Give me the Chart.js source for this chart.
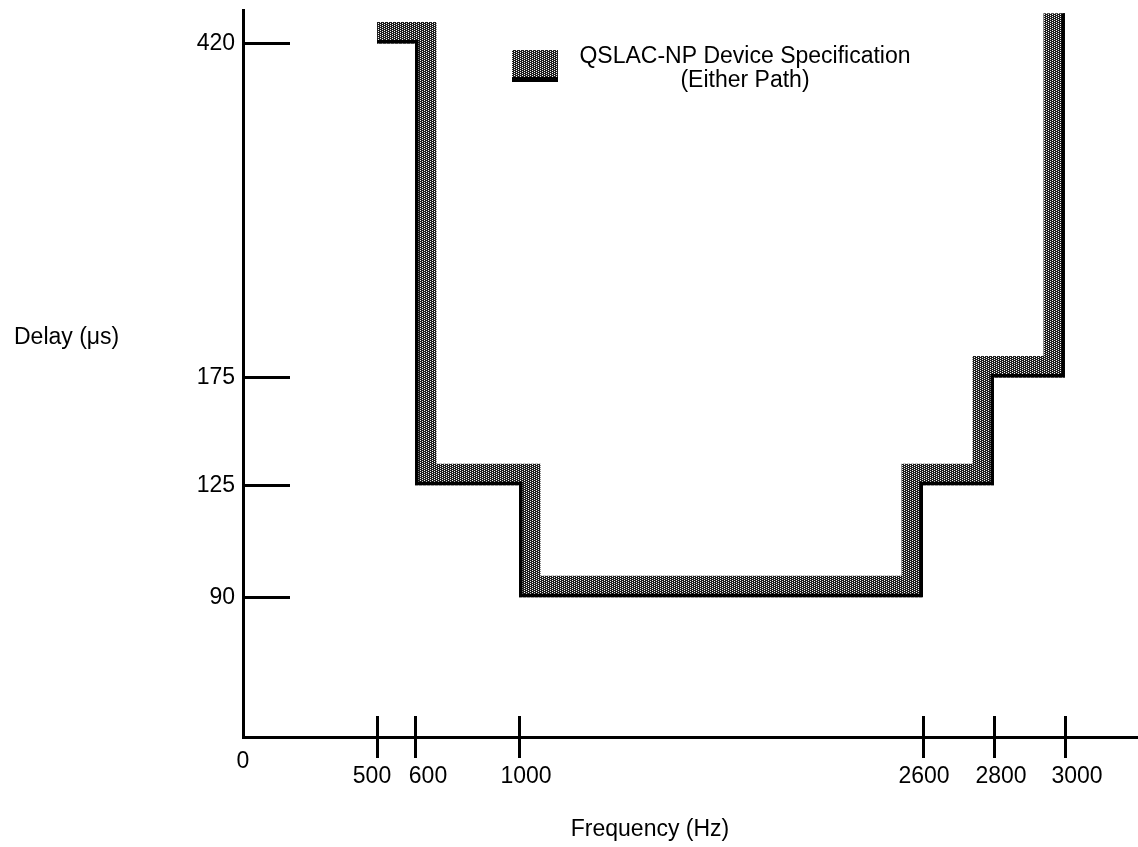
<!DOCTYPE html>
<html lang="en">
<head>
<meta charset="UTF-8">
<title>QSLAC-NP Delay Specification</title>
<script src="https://cdn.jsdelivr.net/npm/chart.js@4"></script>
<style>
  html, body { margin: 0; padding: 0; background: #fff; }
  #wrap { width: 1138px; height: 847px; }
</style>
</head>
<body>
<div id="wrap"><canvas id="delayChart" width="1138" height="847"></canvas></div>
<script>
// step corners of the delay mask (stepped: 'before' -> horizontal run, then the jump)
const FREQ_HZ = [500, 600, 1000, 2600, 2800, 3000];
const DELAY_US = [420, 125, 90, 125, 175, 456];

const X_TICKS = [500, 600, 1000, 2600, 2800, 3000];
const Y_TICKS = [90, 125, 175, 420];

const LEGEND_LINES = ['QSLAC-NP Device Specification', '(Either Path)'];
const X_TITLE = 'Frequency (Hz)';
const Y_TITLE = 'Delay (μs)';

const FONT_FAMILY = "'Liberation Sans', Arial, Helvetica, sans-serif";
const FONT = '23px ' + FONT_FAMILY;
// the x labels are set a little off their tick marks in the original
const X_LABEL_NUDGE = [-5, 13, 7, 1, 7, 12];

// the original drawing is not to scale, so both axes map value -> fraction piecewise
const AXIS_BREAKS = {
  x: { values: [0, 500, 600, 1000, 2600, 2800, 3000, 3300], stops: [0, 0.1497, 0.1922, 0.3084, 0.7598, 0.8391, 0.9184, 1] },
  y: { values: [0, 90, 125, 175, 420, 460], stops: [0, 0.1923, 0.3462, 0.4945, 0.954, 1] }
};

function interp(v, xs, ys) {
  for (let i = 1; i < xs.length; i++) {
    if (v <= xs[i] || i === xs.length - 1) {
      const t = (v - xs[i - 1]) / (xs[i] - xs[i - 1]);
      return ys[i - 1] + t * (ys[i] - ys[i - 1]);
    }
  }
}

class PiecewiseScale extends Chart.LinearScale {
  getPixelForValue(value) {
    const b = AXIS_BREAKS[this.axis];
    return this.getPixelForDecimal(interp(value, b.values, b.stops));
  }
  getValueForPixel(pixel) {
    const b = AXIS_BREAKS[this.axis];
    return interp(this.getDecimalForPixel(pixel), b.stops, b.values);
  }
}
PiecewiseScale.id = 'piecewise';
PiecewiseScale.defaults = Chart.LinearScale.defaults;
Chart.register(PiecewiseScale);

// dark stipple like the printed screen tone
function makeStipple() {
  const tile = document.createElement('canvas');
  tile.width = 4;
  tile.height = 2;
  const t = tile.getContext('2d');
  t.fillStyle = '#1e1e1e';
  t.fillRect(0, 0, 4, 2);
  t.fillStyle = '#f4f4f4';
  t.fillRect(0, 0, 1, 1);
  t.fillRect(2, 1, 1, 1);
  return t.createPattern(tile, 'repeat');
}
const stipple = makeStipple();

// keep only the half of the thick stroke that lies inside the mask (above the limit)
const maskClip = {
  id: 'maskClip',
  beforeDatasetDraw(chart, args) {
    const pts = args.meta.data;
    const ctx = chart.ctx;
    ctx.save();
    ctx.beginPath();
    ctx.moveTo(pts[0].x, 0);
    ctx.lineTo(pts[0].x, pts[0].y);
    for (let i = 1; i < pts.length; i++) {
      ctx.lineTo(pts[i].x, pts[i - 1].y);
      ctx.lineTo(pts[i].x, pts[i].y);
    }
    ctx.lineTo(pts[pts.length - 1].x, 0);
    ctx.closePath();
    ctx.clip();
  },
  afterDatasetDraw(chart) {
    chart.ctx.restore();
  }
};

const decor = {
  id: 'decor',
  afterDraw(chart) {
    const { ctx, chartArea } = chart;
    const x = chart.scales.x;
    const y = chart.scales.y;
    ctx.save();
    ctx.strokeStyle = '#000';
    ctx.lineWidth = 3;
    ctx.beginPath();
    Y_TICKS.forEach(v => {
      const py = Math.round(y.getPixelForValue(v)) + 0.5;
      ctx.moveTo(chartArea.left, py);
      ctx.lineTo(chartArea.left + 47, py);
    });
    X_TICKS.forEach(v => {
      const px = Math.round(x.getPixelForValue(v)) + 0.5;
      ctx.moveTo(px, chartArea.bottom - 21);
      ctx.lineTo(px, chartArea.bottom + 21);
    });
    ctx.stroke();

    ctx.fillStyle = '#000';
    ctx.font = FONT;
    ctx.textBaseline = 'middle';
    ctx.textAlign = 'center';
    X_TICKS.forEach((v, i) => {
      ctx.fillText(String(v), x.getPixelForValue(v) + X_LABEL_NUDGE[i], chartArea.bottom + 40);
    });
    ctx.fillText('0', chartArea.left, chartArea.bottom + 25);
    ctx.fillText(X_TITLE, 650, 830);
    ctx.textAlign = 'left';
    ctx.fillText(Y_TITLE, 14, 338);

    // legend
    ctx.fillStyle = stipple;
    ctx.fillRect(512, 50, 46, 29);
    ctx.fillStyle = '#000';
    ctx.fillRect(512, 77, 46, 5);
    ctx.textAlign = 'center';
    ctx.fillText(LEGEND_LINES[0], 745, 57);
    ctx.fillText(LEGEND_LINES[1], 745, 81);
    ctx.restore();
  }
};

Chart.defaults.font.family = FONT_FAMILY;
Chart.defaults.font.size = 23;
Chart.defaults.color = '#000';

const points = FREQ_HZ.map((f, i) => ({ x: f, y: DELAY_US[i] }));

new Chart(document.getElementById('delayChart'), {
  type: 'line',
  data: {
    datasets: [
      {
        label: LEGEND_LINES.join(' '),
        data: points,
        stepped: 'before',
        borderColor: stipple,
        borderWidth: 43,
        pointRadius: 0,
        fill: false,
        clip: false,
        order: 2
      },
      {
        label: 'limit',
        data: points,
        stepped: 'before',
        borderColor: '#000',
        borderWidth: 7,
        pointRadius: 0,
        fill: false,
        clip: false,
        order: 1
      }
    ]
  },
  options: {
    responsive: false,
    animation: false,
    events: [],
    layout: { padding: { top: 10, right: 0, bottom: 0, left: 0 } },
    plugins: {
      legend: { display: false },
      tooltip: { enabled: false }
    },
    scales: {
      x: {
        type: 'piecewise',
        min: 0,
        max: 3300,
        grid: { display: true, drawOnChartArea: false, drawTicks: false },
        border: { display: true, color: '#000', width: 3 },
        ticks: { display: false },
        afterBuildTicks: s => { s.ticks = X_TICKS.map(v => ({ value: v })); },
        afterFit: s => {
          s.height = 110;
          s.paddingLeft = 0;
          s.paddingRight = 0;
        }
      },
      y: {
        type: 'piecewise',
        min: 0,
        max: 460,
        grid: { display: true, drawOnChartArea: false, drawTicks: false },
        border: { display: true, color: '#000', width: 3 },
        ticks: { padding: 8, autoSkip: false, callback: v => String(v) },
        afterBuildTicks: s => { s.ticks = Y_TICKS.map(v => ({ value: v })); },
        afterFit: s => {
          s.width = 243;
          s.paddingTop = 0;
          s.paddingBottom = 0;
        }
      }
    }
  },
  plugins: [maskClip, decor]
});
</script>
</body>
</html>
